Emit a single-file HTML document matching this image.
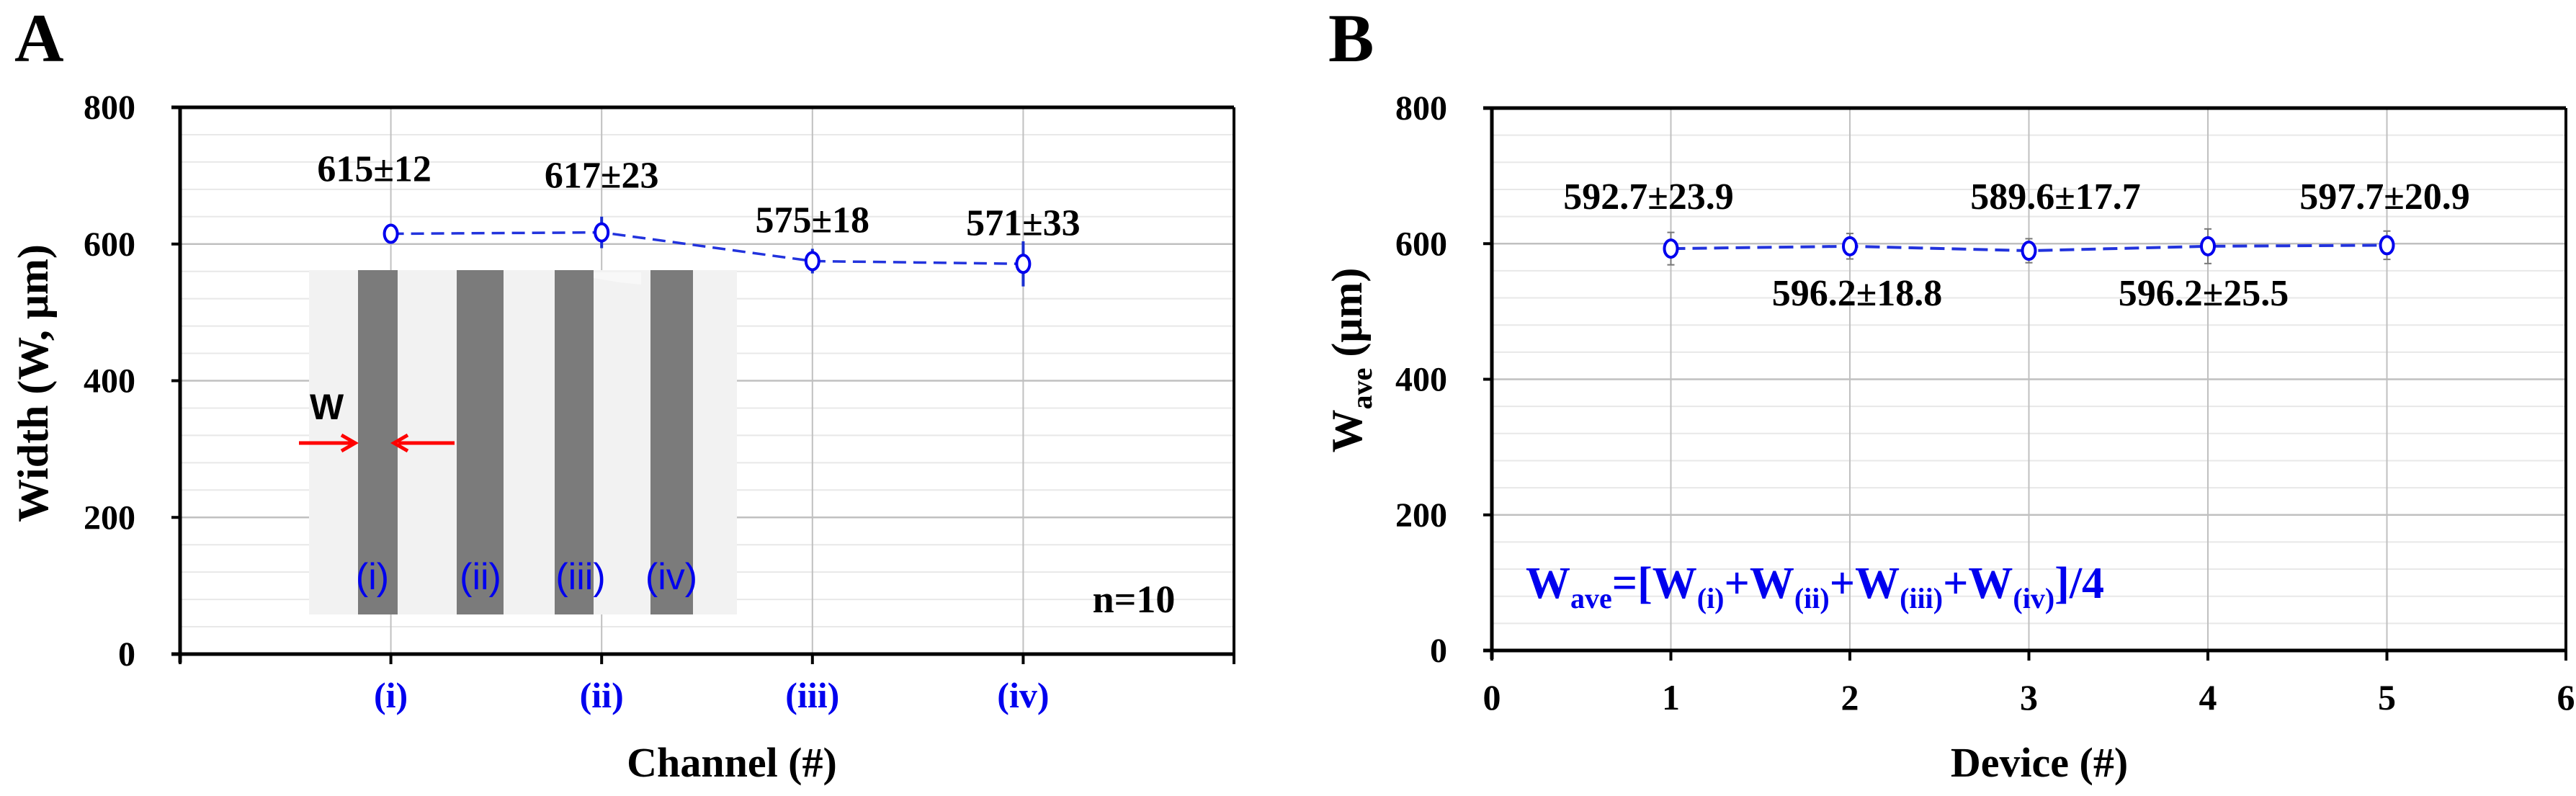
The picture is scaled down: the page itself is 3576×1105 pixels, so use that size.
<!DOCTYPE html>
<html><head><meta charset="utf-8"><style>
html,body{margin:0;padding:0;background:#fff;}
svg{display:block;}
text{font-family:"Liberation Serif",serif;font-weight:bold;}
</style></head><body>
<svg id="fig" width="3576" height="1105" viewBox="0 0 3576 1105" xmlns="http://www.w3.org/2000/svg">
  <g id="panelA"></g>
  <g id="panelB"></g>
</svg>
<script>
// Panel A data
const catsA = ["(i)","(ii)","(iii)","(iv)"];
const valsA = [615,617,575,571];
const errsA = [12,23,18,33];
const labelsA = ["615±12","617±23","575±18","571±33"];
// Panel B data
const devB = [1,2,3,4,5];
const valsB = [592.7,596.2,589.6,596.2,597.7];
const errsB = [23.9,18.8,17.7,25.5,20.9];
const labelsB = ["592.7±23.9","596.2±18.8","589.6±17.7","596.2±25.5","597.7±20.9"];
const yTicks = [0,200,400,600,800];
const xTicksB = [0,1,2,3,4,5,6];

const NS="http://www.w3.org/2000/svg";
function mk(parent,tag,attrs,txt){const e=document.createElementNS(NS,tag);for(const k in attrs)e.setAttribute(k,attrs[k]);if(txt!==undefined)e.textContent=txt;parent.appendChild(e);return e;}

function frame(g,L,R,T,B,xmin,xmax,xgrid){
  const sx=v=>L+(v-xmin)/(xmax-xmin)*(R-L);
  const sy=v=>B-v/800*(B-T);
  for(let v=40;v<800;v+=40){ if(v%200===0)continue;
    const l=mk(g,'line',{x1:L,x2:R,y1:sy(v),y2:sy(v),stroke:'#e8e8e8','stroke-width':2});
    
    
  }
  yTicks.forEach(v=>{ if(v>0&&v<800){const l=mk(g,'line',{x1:L,x2:R,y1:sy(v),y2:sy(v),stroke:'#c0c0c0','stroke-width':2.5});
    
    }
  });
  xgrid.forEach(v=>{const l=mk(g,'line',{x1:sx(v),x2:sx(v),y1:T,y2:B,stroke:'#c0c0c0','stroke-width':2});
    
    });
  return {sx,sy};
}
function axes(g,L,R,T,B,sx,sy,xt){
  const top=mk(g,'line',{x1:L-12,x2:R,y1:T,y2:T,stroke:'#000','stroke-width':5});
  
  
  const rt=mk(g,'line',{x1:R,x2:R,y1:T,y2:B+12,stroke:'#000','stroke-width':4});
  
  
  const ya=mk(g,'line',{x1:L,x2:L,y1:T,y2:B+12,stroke:'#000','stroke-width':5});
  
  
  const xa=mk(g,'line',{x1:L-12,x2:R,y1:B,y2:B,stroke:'#000','stroke-width':5});
  
  
  yTicks.forEach(v=>{mk(g,'line',{x1:L-12,x2:L,y1:sy(v),y2:sy(v),stroke:'#000','stroke-width':4});
    const t=mk(g,'text',{x:L-62,y:sy(v)+16,'font-size':48,'text-anchor':'end'},String(v));
    
    });
  xt.forEach(v=>{mk(g,'line',{x1:sx(v),x2:sx(v),y1:B,y2:B+14,stroke:'#000','stroke-width':4});});
}

// ---- Panel A ----
(function(){
  const g=document.getElementById('panelA');
  const L=250,R=1713,T=149,B=908;
  const {sx,sy}=frame(g,L,R,T,B,0,5,[1,2,3,4]);
  // inset image
  const ins=mk(g,'g',{});
  
  
  mk(ins,'rect',{x:429,y:375,width:594,height:478,fill:'#f2f2f2'});
  [[497,55],[634,65],[770,54],[903,59]].forEach(s=>mk(ins,'rect',{x:s[0],y:375,width:s[1],height:478,fill:'#7b7b7b'}));
  mk(ins,'path',{d:'M824 378 L890 378 L890 395 L860 392 L824 386 Z',fill:'#f8f8f8'});
  const w=mk(ins,'text',{x:430,y:582,'font-size':50,style:'font-family:"Liberation Sans",sans-serif'},'W');
  
  
  mk(ins,'line',{x1:415,x2:488,y1:615,y2:615,stroke:'#ff0000','stroke-width':5});
  mk(ins,'path',{d:'M474 604 L493 615 L474 626',fill:'none',stroke:'#ff0000','stroke-width':5});
  mk(ins,'line',{x1:553,x2:631,y1:615,y2:615,stroke:'#ff0000','stroke-width':5});
  mk(ins,'path',{d:'M566 604 L547 615 L566 626',fill:'none',stroke:'#ff0000','stroke-width':5});
  [[517,'(i)'],[667,'(ii)'],[806,'(iii)'],[932,'(iv)']].forEach(p=>{
    const t=mk(ins,'text',{x:p[0],y:818,'font-size':52,fill:'#0000ee','text-anchor':'middle',style:'font-family:"Liberation Sans",sans-serif;font-weight:normal'},p[1]);
    
    
  });
  axes(g,L,R,T,B,sx,sy,[0,1,2,3,4,5]);
  // series
  const pts=valsA.map((v,i)=>[sx(i+1),sy(v)]);
  const line=mk(g,'polyline',{points:pts.map(p=>p.join(',')).join(' '),fill:'none',stroke:'#2233dd','stroke-width':3.5,'stroke-dasharray':'18,10'});
  
  
  valsA.forEach((v,i)=>{
    const x=sx(i+1);
    const e=mk(g,'line',{x1:x,x2:x,y1:sy(v+errsA[i]),y2:sy(v-errsA[i]),stroke:'#1a2fd0','stroke-width':4});
    
    
    const c=mk(g,'ellipse',{cx:x,cy:sy(v),rx:9,ry:12,fill:'#fff',stroke:'#0000ee','stroke-width':4});
    
    
    const t=mk(g,'text',{x:x-(i===0?23:0),y:sy(v)-(i<2?(i===0?63:52):30)-10,'font-size':52,'text-anchor':'middle'},labelsA[i]);
    
    
    const ct=mk(g,'text',{x:x,y:982,'font-size':50,fill:'#0000ee','text-anchor':'middle'},catsA[i]);
    
    
  });
  const n=mk(g,'text',{x:1574,y:850,'font-size':54,'text-anchor':'middle'},'n=10');
  
  
  const xt=mk(g,'text',{x:1016,y:1078,'font-size':58,'text-anchor':'middle'},'Channel (#)');
  
  
  const yt=mk(g,'text',{x:0,y:0,'font-size':60,'text-anchor':'middle',transform:'translate(66,532) rotate(-90)'},'Width (W, μm)');
  
  
  const pl=mk(g,'text',{x:20,y:85,'font-size':95},'A');
  
  
})();

// ---- Panel B ----
(function(){
  const g=document.getElementById('panelB');
  const L=2071,R=3562,T=150,B=903;
  const {sx,sy}=frame(g,L,R,T,B,0,6,[1,2,3,4,5]);
  axes(g,L,R,T,B,sx,sy,xTicksB);
  const pts=valsB.map((v,i)=>[sx(devB[i]),sy(v)]);
  const line=mk(g,'polyline',{points:pts.map(p=>p.join(',')).join(' '),fill:'none',stroke:'#2233dd','stroke-width':4,'stroke-dasharray':'20,10'});
  
  
  const offs=[-31,10,37,-6,-3];
  valsB.forEach((v,i)=>{
    const x=sx(devB[i]);
    const e=mk(g,'line',{x1:x,x2:x,y1:sy(v+errsB[i]),y2:sy(v-errsB[i]),stroke:'#777','stroke-width':2});
    
    
    mk(g,'line',{x1:x-5,x2:x+5,y1:sy(v+errsB[i]),y2:sy(v+errsB[i]),stroke:'#777','stroke-width':2});
    mk(g,'line',{x1:x-5,x2:x+5,y1:sy(v-errsB[i]),y2:sy(v-errsB[i]),stroke:'#777','stroke-width':2});
    const c=mk(g,'ellipse',{cx:x,cy:sy(v),rx:9,ry:12,fill:'#fff',stroke:'#0000ee','stroke-width':4});
    
    
    const above=(i%2===0);
    const t=mk(g,'text',{x:x+offs[i],y:above?290:424,'font-size':52,'text-anchor':'middle'},labelsB[i]);
    
    
  });
  xTicksB.forEach(v=>{
    const t=mk(g,'text',{x:sx(v),y:985,'font-size':50,'text-anchor':'middle'},String(v));
    
    
  });
  const f=mk(g,'text',{x:2118,y:830,'font-size':62,fill:'#0000ee'});
  
  
  const parts=[['W',0],['ave',1],['=[W',0],['(i)',1],['+W',0],['(ii)',1],['+W',0],['(iii)',1],['+W',0],['(iv)',1],[']/4',0]];
  parts.forEach(p=>{const s=mk(f,'tspan',{'font-size':p[1]?40:62,dy:p[1]?14:0},p[0]);
    if(p[1]){const r=mk(f,'tspan',{'font-size':1,dy:-14},'\u200b');}});
  const xt=mk(g,'text',{x:2831,y:1078,'font-size':58,'text-anchor':'middle'},'Device (#)');
  
  
  const yt=mk(g,'text',{x:0,y:0,'font-size':60,'text-anchor':'middle',transform:'translate(1890,500) rotate(-90)'});
  
  
  mk(yt,'tspan',{},'W');
  mk(yt,'tspan',{'font-size':40,dy:14},'ave');
  mk(yt,'tspan',{dy:-14},' (μm)');
  const pl=mk(g,'text',{x:1844,y:85,'font-size':95},'B');
  
  
})();
</script>
</body></html>
